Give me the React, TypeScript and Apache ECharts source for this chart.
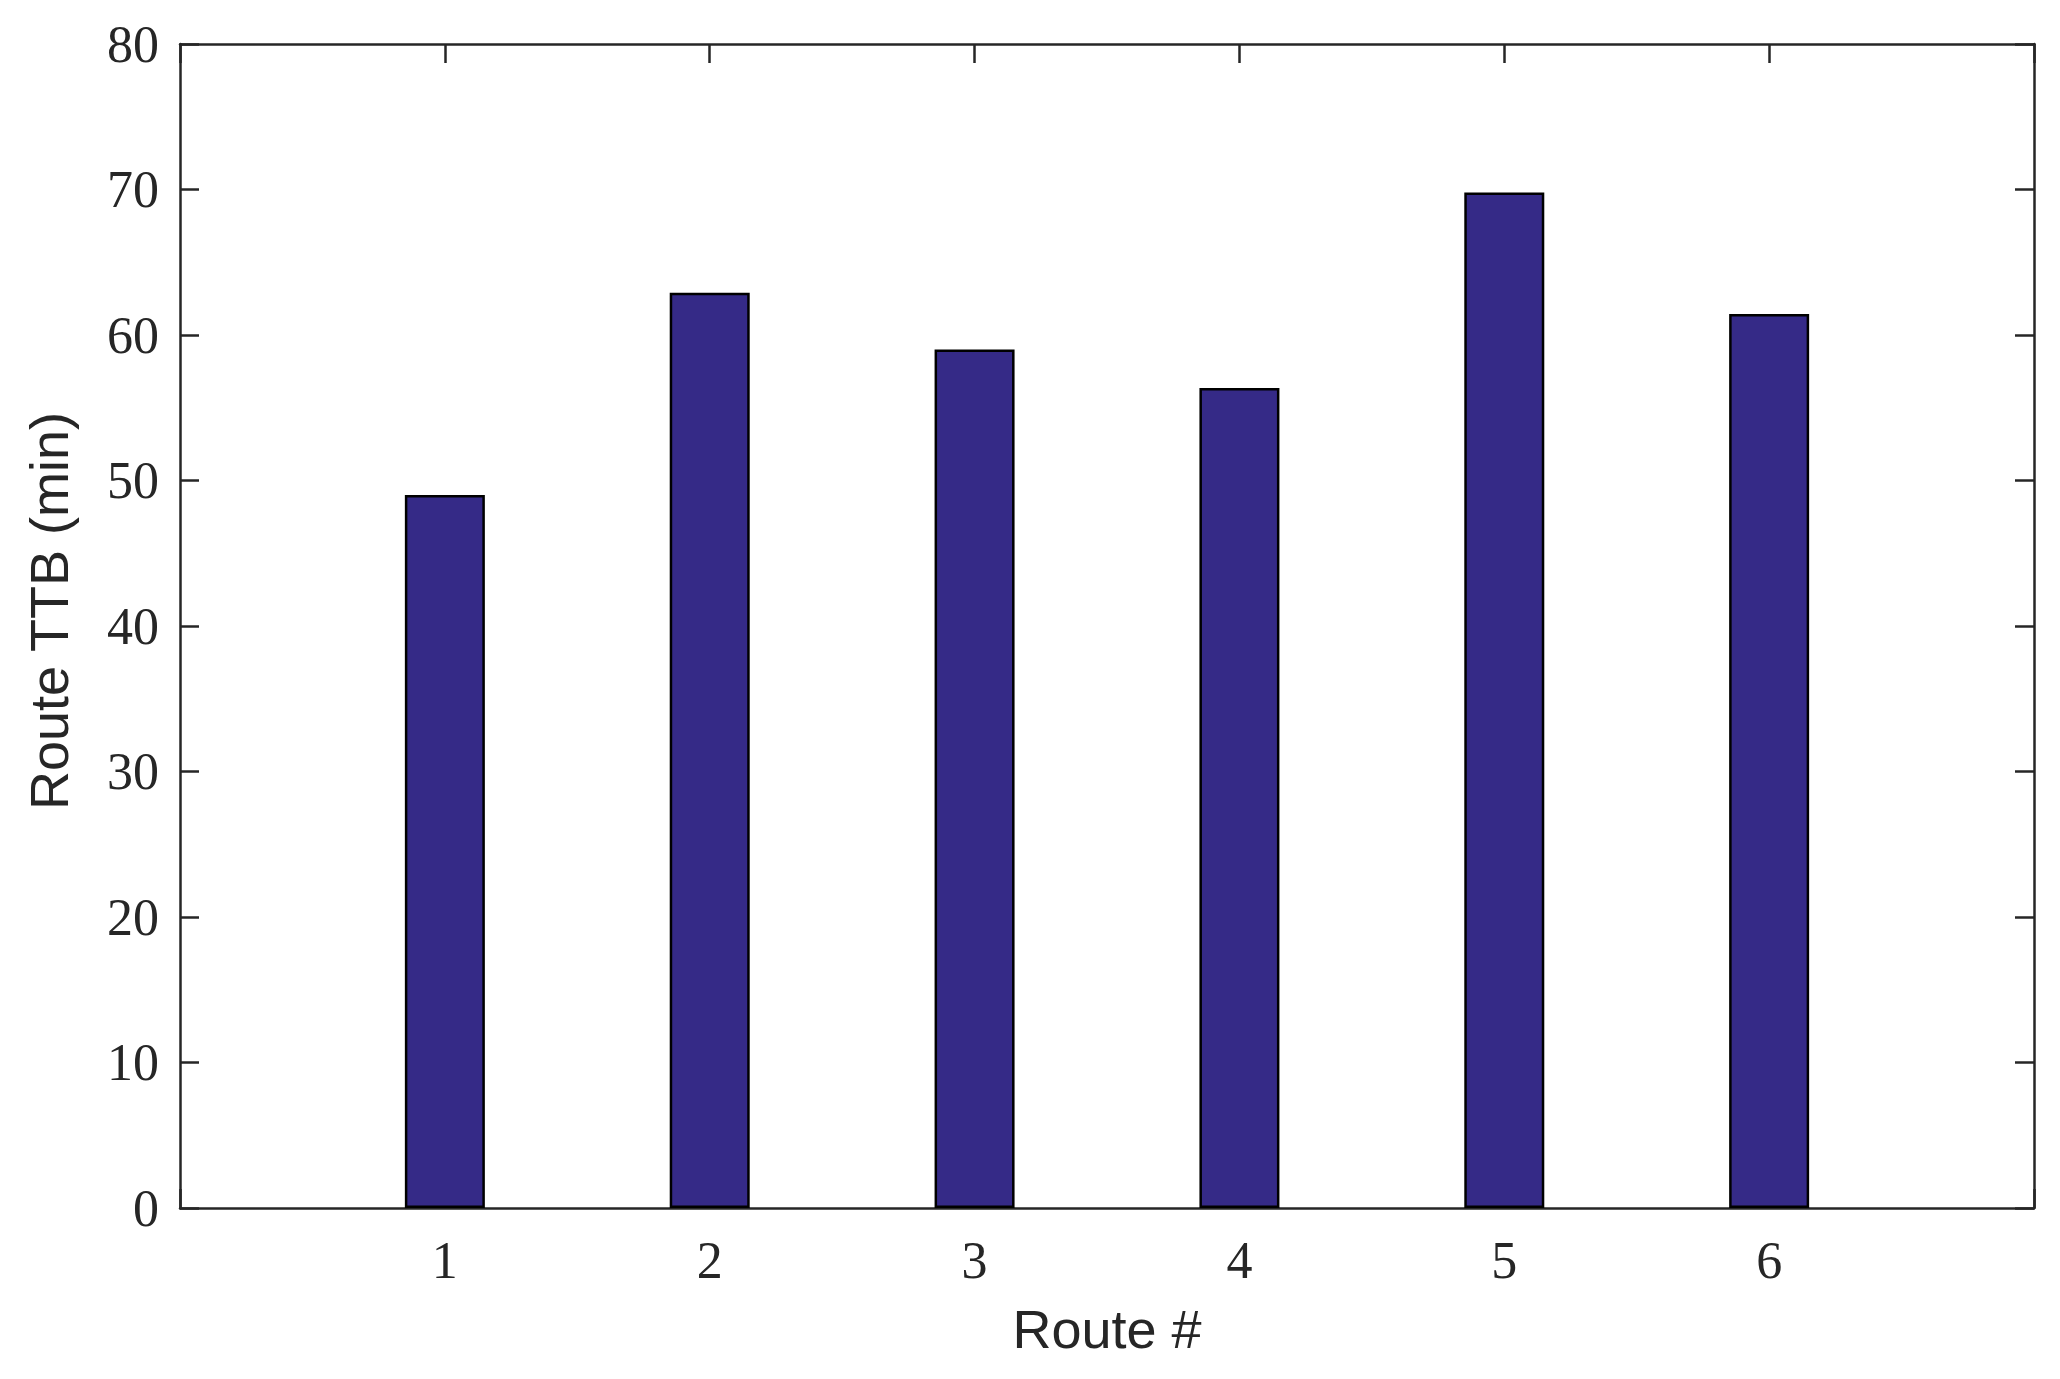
import React, { useEffect, useRef } from "react";
import * as echarts from "echarts";

const routeNumbers = [1, 2, 3, 4, 5, 6];
const routeTTB = [49.0, 62.9, 59.0, 56.35, 69.8, 61.45];
const xMin = 0;
const xMax = 7;
const yMin = 0;
const yMax = 80;
const yStep = 10;
const xTitle = "Route #";
const yTitle = "Route TTB (min)";

const AXIS_COLOR = "#262626";
const SERIF = "'Liberation Serif', 'Times New Roman', serif";
const SANS = "'Liberation Sans', Arial, sans-serif";

export default function App() {
  const ref = useRef<HTMLDivElement>(null);
  useEffect(() => {
    document.body.style.margin = "0";
    const chart = echarts.init(ref.current!, null, { renderer: "svg" });
    const lineStyle = { color: AXIS_COLOR, width: 2.5 };
    const tick = { show: true, inside: true, length: 19, lineStyle };
    const xLabelFmt = (v: number) =>
      routeNumbers.indexOf(v) >= 0 ? String(v) : "";
    chart.setOption({
      animation: false,
      backgroundColor: "#ffffff",
      grid: { left: 180, top: 44, right: 26, bottom: 171, containLabel: false },
      xAxis: [
        {
          type: "value",
          position: "bottom",
          min: xMin,
          max: xMax,
          interval: 1,
          axisLine: { show: true, onZero: false, lineStyle },
          axisTick: tick,
          splitLine: { show: false },
          axisLabel: {
            formatter: xLabelFmt,
            color: AXIS_COLOR,
            fontFamily: SERIF,
            fontSize: 52,
            margin: 26,
          },
          name: xTitle,
          nameLocation: "middle",
          nameGap: 94,
          nameTextStyle: { color: AXIS_COLOR, fontFamily: SANS, fontSize: 54 },
        },
        {
          type: "value",
          position: "top",
          min: xMin,
          max: xMax,
          interval: 1,
          axisLine: { show: true, onZero: false, lineStyle },
          axisTick: tick,
          splitLine: { show: false },
          axisLabel: { show: false },
        },
      ],
      yAxis: [
        {
          type: "value",
          position: "left",
          min: yMin,
          max: yMax,
          interval: yStep,
          axisLine: { show: true, onZero: false, lineStyle },
          axisTick: tick,
          splitLine: { show: false },
          axisLabel: {
            color: AXIS_COLOR,
            fontFamily: SERIF,
            fontSize: 52,
            margin: 21,
          },
          name: yTitle,
          nameLocation: "middle",
          nameGap: 104,
          nameTextStyle: {
            color: AXIS_COLOR,
            fontFamily: SANS,
            fontSize: 54,
            padding: [0, 0, 0, 30],
          },
        },
        {
          type: "value",
          position: "right",
          min: yMin,
          max: yMax,
          interval: yStep,
          axisLine: { show: true, onZero: false, lineStyle },
          axisTick: tick,
          splitLine: { show: false },
          axisLabel: { show: false },
        },
      ],
      series: [
        {
          type: "bar",
          xAxisIndex: 0,
          yAxisIndex: 0,
          barWidth: 80,
          data: routeNumbers.map((r, i) => [r, routeTTB[i]]),
          itemStyle: { color: "#352A87", borderColor: "#000000", borderWidth: 2.5 },
        },
      ],
    });
    return () => chart.dispose();
  }, []);
  return <div ref={ref} style={{ width: 2060, height: 1379 }} />;
}
